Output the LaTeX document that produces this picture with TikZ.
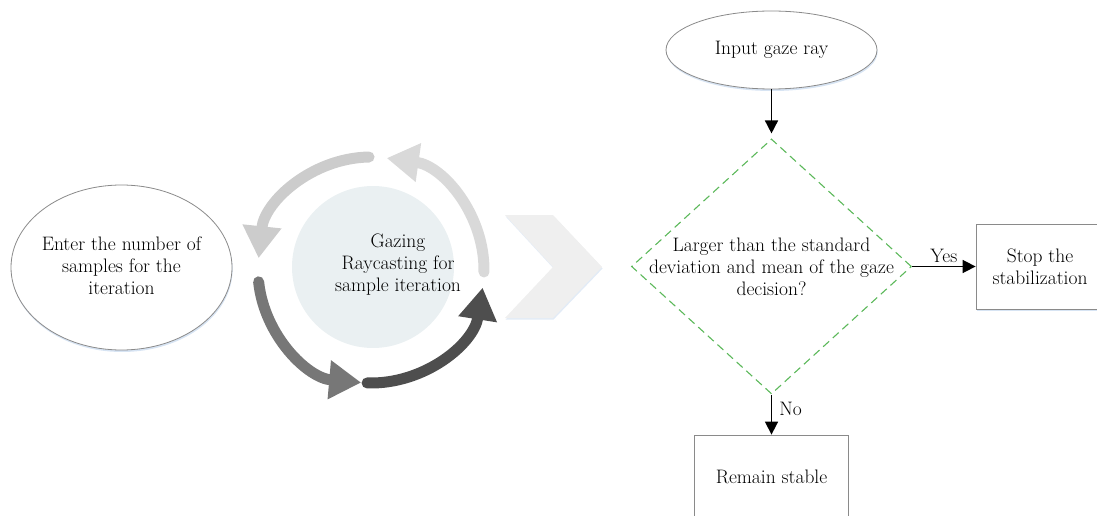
\documentclass[tikz,border=0pt]{standalone}
\usepackage{fontspec}
\usetikzlibrary{arrows.meta,shapes.geometric,shadows,calc}

\definecolor{edge}{HTML}{8A8A8A}
\definecolor{dashgreen}{HTML}{5CB85A}
\definecolor{shade}{HTML}{C6D8EE}
\definecolor{hubfill}{HTML}{EAF0F2}
\definecolor{chev}{HTML}{EFEFEF}
\definecolor{ringA}{HTML}{CCCCCC}
\definecolor{ringB}{HTML}{777777}
\definecolor{ringC}{HTML}{4E4E4E}
\definecolor{ringD}{HTML}{D9D9D9}

\newcommand\labelfont{\fontsize{19.5}{22}\selectfont}

\tikzset{
  txt/.style={align=center, font=\labelfont, inner sep=0pt},
  softshadow/.style={drop shadow={shadow xshift=0.6pt, shadow yshift=-2pt, fill=shade, opacity=0.7}},
  oval/.style={ellipse, draw=edge, line width=0.8pt, fill=white, inner sep=0pt, softshadow},
  box/.style={rectangle, draw=edge, line width=0.8pt, fill=white, inner sep=0pt,
    align=center, font=\labelfont, softshadow},
  decision/.style={diamond, draw=dashgreen, dash pattern=on 8pt off 5pt, line width=1.1pt,
    minimum width=280pt, minimum height=255pt, inner sep=0pt},
  flow/.style={-{Triangle[length=13pt,width=13pt]}, line width=1.6pt, black},
  ringarrow/.style={line width=11pt, line cap=round, -{Triangle[length=32pt,width=37pt]}},
}

\begin{document}
\begin{tikzpicture}[x=1pt,y=1pt]
\clip (0,0) rectangle (1097,515);

% starting oval
\node[oval, minimum width=221pt, minimum height=165pt] (samples) at (121.5,247.5) {};
\node[txt] (samplestext) at (121.5,249) {Enter the number of\\samples for the\\iteration};

% iteration cycle
\coordinate (hub) at (371,245);
\node[circle, fill=hubfill, minimum size=162pt, inner sep=0pt] (hubdisc) at (373,248) {};
\node[txt] (hubtext) at (398,250) {Gazing\\Raycasting for\\sample iteration};
\draw[ringarrow, draw=ringA] ($(hub)+(91:113)$) arc[start angle=91, end angle=174, radius=113];
\draw[ringarrow, draw=ringB] ($(hub)+(186:113)$) arc[start angle=186, end angle=265, radius=113];
\draw[ringarrow, draw=ringC] ($(hub)+(268:113)$) arc[start angle=268, end angle=351, radius=113];
\draw[ringarrow, draw=ringD] ($(hub)+(359:113)$) arc[start angle=359, end angle=442, radius=113];

% chevron
\path[fill=chev, drop shadow={shadow xshift=0.6pt, shadow yshift=-1.5pt, fill=shade, opacity=0.5}]
  (505,300) -- (553,300) -- (602,248) -- (553,197) -- (505,197) -- (553,248) -- cycle;

% decision flow
\node[oval, minimum width=211pt, minimum height=78pt] (gaze) at (771.5,465) {};
\node[txt] (gazetext) at (gaze.center) {Input gaze ray};
\node[decision] (dec) at (771.5,248.5) {};
\node[txt] (dectext) at (771.5,248) {Larger than the standard\\deviation and mean of the gaze\\decision?};
\node[box, minimum width=128pt, minimum height=85pt] (stop) at (1040,248.5) {Stop the\\stabilization};
\node[box, minimum width=154pt, minimum height=84pt] (remain) at (771.5,38) {Remain stable};

\draw[flow, shorten >=5pt] (gaze) -- (dec);
\draw[flow] (dec.east) -- node[txt, above=3pt] (yes) {Yes} (stop.west);
\draw[flow] (dec.south) -- node[txt, pos=0.35, right=7pt] (no) {No} (remain.north);
\end{tikzpicture}
\end{document}
